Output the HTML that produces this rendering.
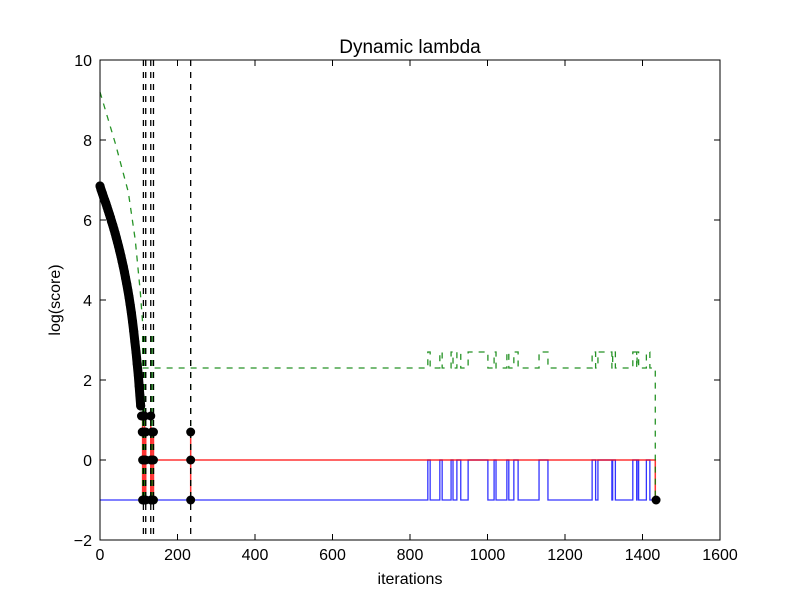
<!DOCTYPE html>
<html><head><meta charset="utf-8"><style>
body{margin:0;background:#fff;}
svg text{font-family:"Liberation Sans","DejaVu Sans",sans-serif;}
</style></head><body>
<svg id="chart" width="800" height="600" xmlns="http://www.w3.org/2000/svg"></svg>
<script>
const xTicks=[0,200,400,600,800,1000,1200,1400,1600];
const yTicks=[-2,0,2,4,6,8,10];
// black dot curve (iteration, log score)
const dotIters=[0,3,6,9,12,15,18,21,24,27,30,33,36,39,42,45,48,51,54,57,60,63,66,69,72,75,78,81,84,87,90,93,96,99,101,103,105,107,109];
const dotVals=[6.85,6.75,6.67,6.58,6.5,6.42,6.33,6.24,6.15,6.06,5.96,5.87,5.77,5.67,5.56,5.45,5.34,5.22,5.1,4.97,4.84,4.7,4.55,4.4,4.24,4.07,3.88,3.68,3.46,3.22,2.95,2.7,2.4,2.1,1.85,1.6,1.35,1.1,0.7];
// cluster points
const clusterIters=[110,112,115,118,131,134,138,234];
const clusterHigh=[1.1,0.7,1.1,0.7,1.1,0.7,0.7,0.7];
// green dashed descent
const greenIters=[0,40,73,91,104,111];
const greenVals=[9.2,7.9,6.7,5.5,4.2,3.3];
// blue segments at 0 (start, end iteration)
const blueStarts=[846,877,906,921,950,1017,1050,1068,1133,1270,1285,1323,1375,1385,1410];
const blueEnds=[852,883,911,931,1001,1022,1055,1079,1156,1279,1321,1330,1386,1390,1419];
const vlines=[112,118,131,138,234];
const endIter=1433;

const L=100,R=720,T=60,B=540;
const sx=v=>L+(v-0)/1600*(R-L);
const sy=v=>B-(v+2)/12*(B-T);
const svg=document.getElementById('chart');
const NS='http://www.w3.org/2000/svg';
function el(t,a,p){const e=document.createElementNS(NS,t);for(const k in a)e.setAttribute(k,a[k]);(p||svg).appendChild(e);return e;}

const plot=el('g',{});



// blue line
let bp=`M${sx(0)},${sy(-1)}`;
for(let i=0;i<blueStarts.length;i++){bp+=` L${sx(blueStarts[i])},${sy(-1)} L${sx(blueStarts[i])},${sy(0)} L${sx(blueEnds[i])},${sy(0)} L${sx(blueEnds[i])},${sy(-1)}`;}
bp+=` L${sx(endIter)},${sy(-1)}`;
const blue=el('path',{d:bp,fill:'none',stroke:'#0000ff','stroke-width':1.3,opacity:0.8},plot);



// red line
let rp='';
for(let i=0;i<clusterIters.length;i++){rp+=` M${sx(clusterIters[i])},${sy(clusterHigh[i])} L${sx(clusterIters[i])},${sy(-1)}`;}
rp+=` M${sx(138)},${sy(0)} L${sx(endIter)},${sy(0)} L${sx(endIter)},${sy(-1)}`;
const red=el('path',{d:rp,fill:'none',stroke:'#ff0000','stroke-width':1.5,opacity:0.8},plot);



// green dashed
let gp=`M${sx(greenIters[0])},${sy(greenVals[0])}`;
for(let i=1;i<greenIters.length;i++)gp+=` L${sx(greenIters[i])},${sy(greenVals[i])}`;
for(let i=0;i<clusterIters.length;i++){gp+=` M${sx(clusterIters[i])},${sy(3.1)} L${sx(clusterIters[i])},${sy(-1)}`;}
let g2=`M${sx(110)},${sy(2.3)}`;
for(let i=0;i<blueStarts.length;i++){g2+=` L${sx(blueStarts[i])},${sy(2.3)} L${sx(blueStarts[i])},${sy(2.7)} L${sx(blueEnds[i])},${sy(2.7)} L${sx(blueEnds[i])},${sy(2.3)}`;}
g2+=` L${sx(endIter)},${sy(2.3)} L${sx(endIter)},${sy(-1)}`;
const green=el('path',{d:gp+' '+g2,fill:'none',stroke:'#008000','stroke-width':1.3,'stroke-dasharray':'6,6',opacity:0.85},plot);



// vertical dashed lines
vlines.forEach(v=>{const l=el('line',{x1:sx(v),x2:sx(v),y1:T,y2:B,stroke:'#000','stroke-width':1.3,'stroke-dasharray':'6,6'},plot);

});

// dense dot band
let dp=`M${sx(dotIters[0])},${sy(dotVals[0])}`;
for(let i=1;i<dotIters.length-2;i++)dp+=` L${sx(dotIters[i])},${sy(dotVals[i])}`;
const band=el('path',{d:dp,fill:'none',stroke:'#000','stroke-width':9,'stroke-linecap':'round','stroke-linejoin':'round'},plot);


for(let i=0;i<dotIters.length;i++){const c=el('circle',{cx:sx(dotIters[i]),cy:sy(dotVals[i]),r:4.5,fill:'#000'},plot);

}
for(let i=0;i<clusterIters.length;i++){[clusterHigh[i],0,-1].forEach(v=>{const c=el('circle',{cx:sx(clusterIters[i]),cy:sy(v),r:4.5,fill:'#000'},plot);

});}
const ed=el('circle',{cx:sx(endIter+2),cy:sy(-1),r:4.5,fill:'#000'},plot);



// frame
const fr=el('rect',{x:L,y:T,width:R-L,height:B-T,fill:'none',stroke:'#000','stroke-width':1});


xTicks.forEach(v=>{const x=sx(v);
el('line',{x1:x,x2:x,y1:B,y2:B-6,stroke:'#000'});el('line',{x1:x,x2:x,y1:T,y2:T+6,stroke:'#000'});
const t=el('text',{x:x,y:B+20,'font-size':16,'text-anchor':'middle'});t.textContent=v;

});
yTicks.forEach(v=>{const y=sy(v);
el('line',{x1:L,x2:L+6,y1:y,y2:y,stroke:'#000'});el('line',{x1:R,x2:R-6,y1:y,y2:y,stroke:'#000'});
const t=el('text',{x:L-8,y:y+6,'font-size':16,'text-anchor':'end'});t.textContent=v<0?'\u2212'+(-v):v;

});
const ti=el('text',{x:410,y:53,'font-size':19,'text-anchor':'middle'});ti.textContent='Dynamic lambda';


const xl=el('text',{x:410,y:584,'font-size':16,'text-anchor':'middle'});xl.textContent='iterations';


const yl=el('text',{x:60,y:300,'font-size':16,'text-anchor':'middle',transform:'rotate(-90 60 300)'});yl.textContent='log(score)';


</script>
</body></html>
